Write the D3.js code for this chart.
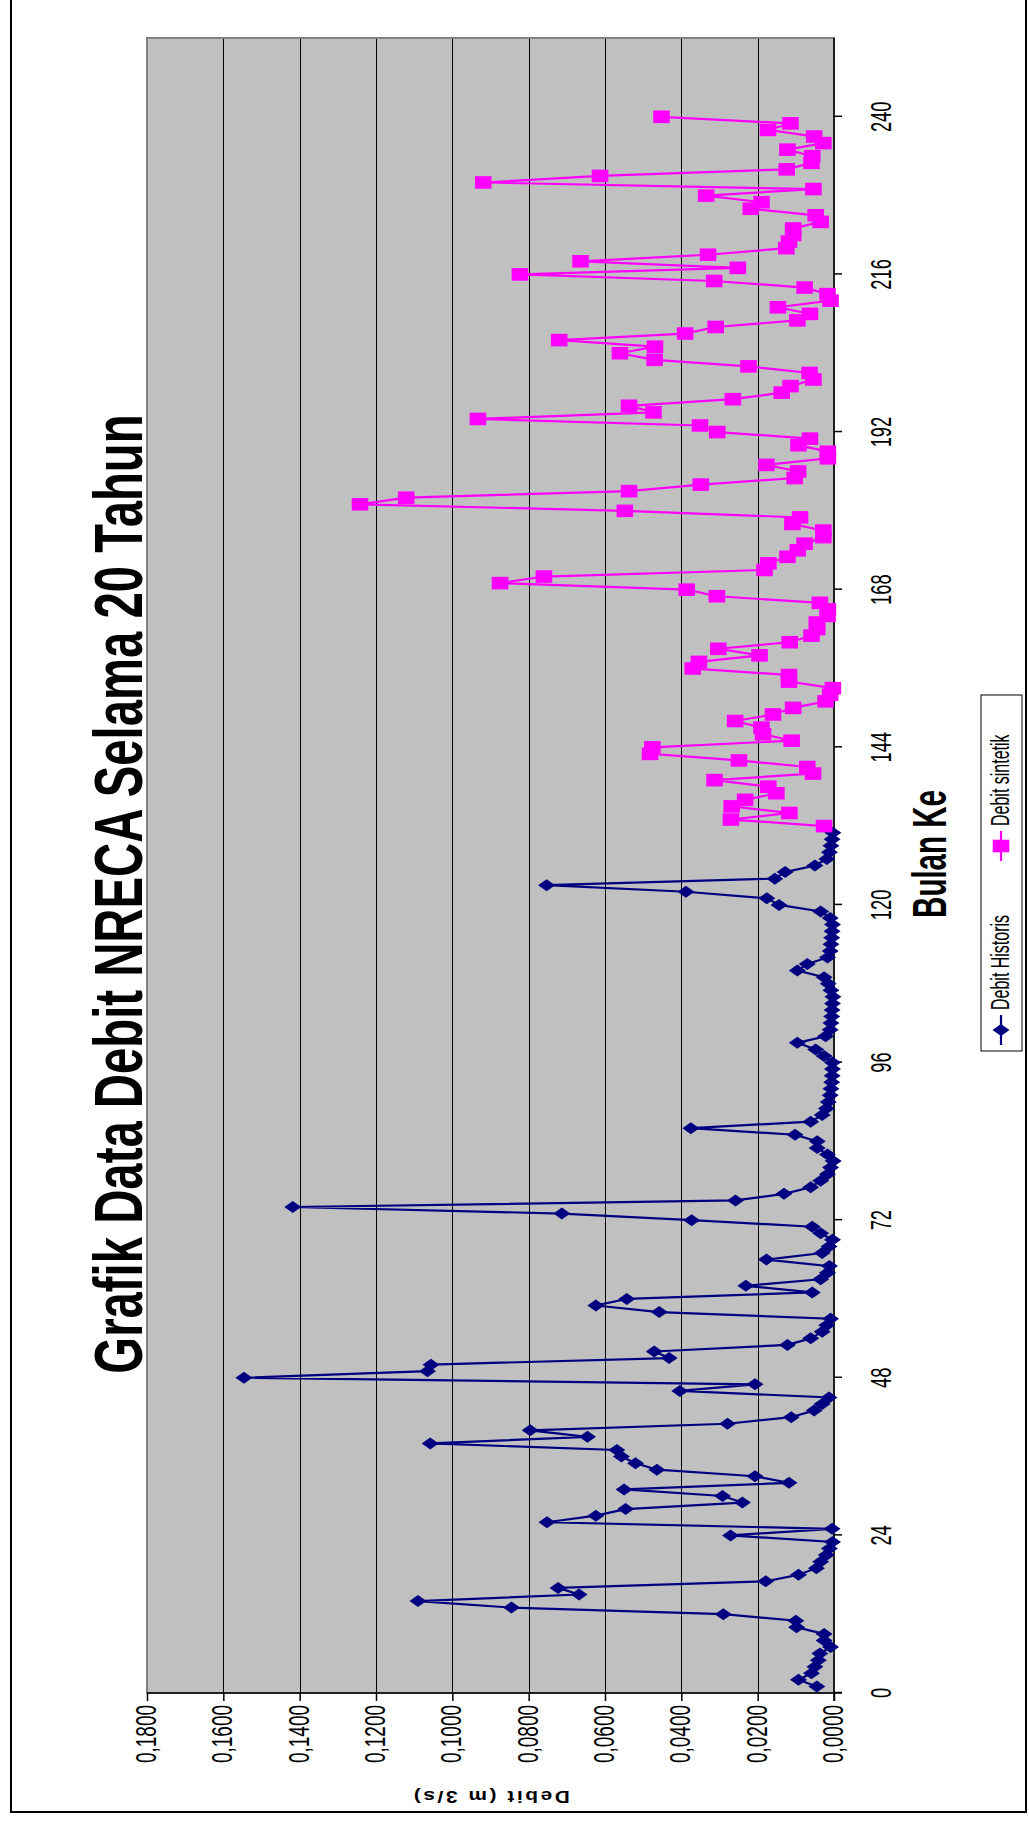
<!DOCTYPE html>
<html>
<head>
<meta charset="utf-8">
<script src="https://cdn.jsdelivr.net/npm/d3@7"></script>
<style>
  body { margin: 0; background: #fff; }
  svg { display: block; font-family: "Liberation Sans", Arial, sans-serif; }
</style>
</head>
<body>
<svg width="1029" height="1822"></svg>
<script>
(function (d3) {
  'use strict';

  // debit historis, bulan 1 .. 131 (m3/s)
  var historisStart = 1;
  var historis = [
    0.0045, 0.0093, 0.0059, 0.0050, 0.0041, 0.0037, 0.0009, 0.0026, 0.0026, 0.0098,
    0.0100, 0.0290, 0.0845, 0.1090, 0.0668, 0.0723, 0.0179, 0.0093, 0.0046, 0.0035,
    0.0020, 0.0012, 0.0004, 0.0271, 0.0005, 0.0752, 0.0624, 0.0546, 0.0240, 0.0292,
    0.0550, 0.0118, 0.0207, 0.0464, 0.0520, 0.0557, 0.0569, 0.1058, 0.0646, 0.0796,
    0.0279, 0.0112, 0.0052, 0.0031, 0.0013, 0.0404, 0.0207, 0.1546, 0.1065, 0.1056,
    0.0432, 0.0471, 0.0122, 0.0061, 0.0031, 0.0019, 0.0009, 0.0458, 0.0624, 0.0543,
    0.0057, 0.0231, 0.0035, 0.0017, 0.0012, 0.0177, 0.0031, 0.0013, 0.0004, 0.0035,
    0.0057, 0.0373, 0.0713, 0.1418, 0.0258, 0.0131, 0.0061, 0.0035, 0.0017, 0.0009,
    0.0002, 0.0017, 0.0044, 0.0044, 0.0102, 0.0375, 0.0061, 0.0031, 0.0020, 0.0015,
    0.0010, 0.0008, 0.0006, 0.0005, 0.0004, 0.0004, 0.0026, 0.0048, 0.0096, 0.0022,
    0.0010, 0.0008, 0.0006, 0.0005, 0.0004, 0.0003, 0.0008, 0.0015, 0.0026, 0.0096,
    0.0070, 0.0017, 0.0010, 0.0008, 0.0006, 0.0005, 0.0004, 0.0010, 0.0035, 0.0144,
    0.0176, 0.0388, 0.0753, 0.0155, 0.0128, 0.0050, 0.0019, 0.0012, 0.0008, 0.0005,
    0.0003
  ];

  // debit sintetik, bulan 132 .. 240 (m3/s)
  var sintetikStart = 132;
  var sintetik = [
    0.0026, 0.0270, 0.0117, 0.0268, 0.0233, 0.0151, 0.0172, 0.0313, 0.0055, 0.0070,
    0.0249, 0.0482, 0.0476, 0.0111, 0.0186, 0.0190, 0.0259, 0.0160, 0.0107, 0.0022,
    0.0010, 0.0003, 0.0118, 0.0118, 0.0370, 0.0354, 0.0195, 0.0303, 0.0116, 0.0059,
    0.0044, 0.0045, 0.0017, 0.0016, 0.0037, 0.0307, 0.0386, 0.0875, 0.0760, 0.0182,
    0.0172, 0.0122, 0.0095, 0.0077, 0.0028, 0.0028, 0.0109, 0.0089, 0.0548, 0.1242,
    0.1121, 0.0537, 0.0349, 0.0103, 0.0094, 0.0177, 0.0016, 0.0016, 0.0093, 0.0063,
    0.0306, 0.0351, 0.0933, 0.0473, 0.0537, 0.0265, 0.0137, 0.0114, 0.0054, 0.0064,
    0.0224, 0.0470, 0.0561, 0.0469, 0.0720, 0.0390, 0.0310, 0.0096, 0.0063, 0.0147,
    0.0009, 0.0017, 0.0077, 0.0314, 0.0823, 0.0252, 0.0664, 0.0330, 0.0125, 0.0118,
    0.0107, 0.0107, 0.0035, 0.0048, 0.0218, 0.0190, 0.0335, 0.0054, 0.0919, 0.0613,
    0.0124, 0.0059, 0.0057, 0.0122, 0.0028, 0.0052, 0.0173, 0.0114, 0.0452
  ];

  var monthTicks = [0, 24, 48, 72, 96, 120, 144, 168, 192, 216, 240];
  var debitTicks = [0, 0.02, 0.04, 0.06, 0.08, 0.10, 0.12, 0.14, 0.16, 0.18];
  var seriesNames = ['Debit Historis', 'Debit sintetik'];
  var seriesColors = ['#000080', '#FF00FF'];

  var svg = d3.select('svg');
  var pageW = +svg.attr('width');
  var pageH = +svg.attr('height');

  // the whole chart is laid out landscape and turned a quarter to the left
  var chart = svg.append('g')
      .attr('transform', 'translate(0,' + pageH + ') rotate(-90)');

  var stretch = 1.6; // glyphs and markers are taller than wide in the chart frame

  // outer frame
  chart.append('rect')
      .attr('x', 10).attr('y', 11)
      .attr('width', pageH - 8).attr('height', pageW - 14)
      .attr('fill', '#fff')
      .attr('stroke', '#000')
      .attr('stroke-width', 2);

  var x = d3.scaleLinear().domain([0, 252]).range([129, 1784]);
  var y = d3.scaleLinear().domain([0, 0.18]).range([834, 147]);

  // plot area
  chart.append('rect')
      .attr('x', x(0)).attr('y', y(0.18))
      .attr('width', x(252) - x(0)).attr('height', y(0) - y(0.18))
      .attr('fill', '#C0C0C0');

  chart.append('g').selectAll('line')
      .data(debitTicks.slice(1, -1))
      .enter()
      .append('line')
      .attr('x1', x(0)).attr('x2', x(252))
      .attr('y1', function (d) { return Math.round(y(d)) + 0.5; })
      .attr('y2', function (d) { return Math.round(y(d)) + 0.5; })
      .attr('stroke', '#000')
      .attr('stroke-width', 1);

  chart.append('rect')
      .attr('x', x(0)).attr('y', y(0.18))
      .attr('width', x(252) - x(0)).attr('height', y(0) - y(0.18))
      .attr('fill', 'none')
      .attr('stroke', '#808080')
      .attr('stroke-width', 2);

  // axes
  var xAxis = d3.axisBottom(x).tickValues(monthTicks).tickSize(8).tickFormat('');
  var yAxis = d3.axisLeft(y).tickValues(debitTicks).tickSize(8).tickFormat('');
  var gx = chart.append('g').attr('transform', 'translate(0,' + y(0) + ')').call(xAxis);
  var gy = chart.append('g').attr('transform', 'translate(' + x(0) + ',0)').call(yAxis);
  [gx, gy].forEach(function (g) {
    g.selectAll('path, line').attr('stroke', '#000').attr('stroke-width', 1.5);
    g.select('.domain').attr('d', g === gx
      ? 'M' + (x(0) - 8) + ',0H' + x(252)
      : 'M0,' + (y(0) + 8) + 'V' + y(0.18));
  });

  function label(parent, px, py, str, size, anchor, weight, k) {
    return parent.append('text')
        .attr('transform', 'translate(' + px + ',' + py + ') scale(1,' + (k || stretch) + ')')
        .attr('text-anchor', anchor || 'middle')
        .attr('font-size', size)
        .attr('font-weight', weight || 'normal')
        .attr('fill', '#000')
        .text(str);
  }

  monthTicks.forEach(function (t) {
    label(chart, x(t), 891, String(t), 18.3, 'middle');
  });
  debitTicks.forEach(function (t) {
    label(chart, 117, y(t) + 9, t.toFixed(4).replace('.', ','), 19, 'end');
  });

  label(chart, 928, 142, 'Grafik Data Debit NRECA Selama 20 Tahun', 47.3, 'middle', 'bold', 1.45);
  label(chart, 968, 946, 'Bulan Ke', 29.5, 'middle', 'bold');

  chart.append('text')
      .attr('transform', 'translate(31,' + y(0.09) + ') rotate(-90) scale(1.3,1)')
      .attr('text-anchor', 'middle')
      .attr('font-size', 16)
      .attr('font-weight', 'bold')
      .attr('letter-spacing', 2)
      .text('Debit (m 3/s)');

  // series
  var line = d3.line()
      .x(function (d) { return x(d.m); })
      .y(function (d) { return y(d.v); });

  var diamond = 'M0,-8.5L6,0L0,8.5L-6,0Z';
  var square = 'M-6.3,-8.3H6.3V8.3H-6.3Z';

  function toPoints(values, start) {
    return values.map(function (v, i) { return { m: start + i, v: v }; });
  }

  var series = [
    { points: toPoints(historis, historisStart), color: seriesColors[0], shape: diamond },
    { points: toPoints(sintetik, sintetikStart), color: seriesColors[1], shape: square }
  ];

  series.forEach(function (s) {
    var g = chart.append('g');
    g.append('path')
        .attr('d', line(s.points))
        .attr('fill', 'none')
        .attr('stroke', s.color)
        .attr('stroke-width', 2.2);
    g.selectAll('path.mark')
        .data(s.points)
        .enter()
        .append('path')
        .attr('class', 'mark')
        .attr('d', s.shape)
        .attr('transform', function (d) { return 'translate(' + x(d.m) + ',' + y(d.v) + ')'; })
        .attr('fill', s.color);
  });

  // legend
  var legend = chart.append('g').attr('transform', 'translate(771,981)');
  legend.append('rect')
      .attr('width', 356).attr('height', 41)
      .attr('fill', '#fff')
      .attr('stroke', '#000')
      .attr('stroke-width', 1);
  var entryX = [6, 190];
  series.forEach(function (s, i) {
    var e = legend.append('g').attr('transform', 'translate(' + entryX[i] + ',20)');
    e.append('line').attr('x1', 0).attr('x2', 30)
        .attr('stroke', s.color).attr('stroke-width', 2.2);
    e.append('path').attr('d', s.shape).attr('transform', 'translate(15,0)').attr('fill', s.color);
    label(e, 35, 8, seriesNames[i], 16, 'start');
  });

}(d3));
</script>
</body>
</html>
